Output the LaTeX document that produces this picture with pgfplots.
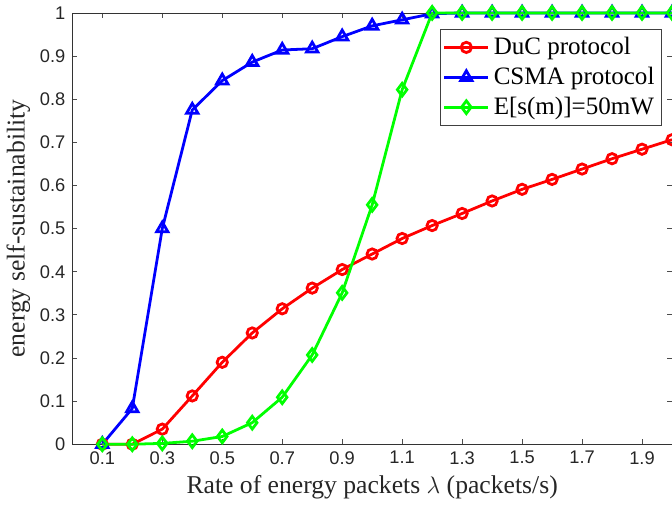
\documentclass[border=0pt]{standalone}
\usepackage{pgfplots}
\pgfplotsset{compat=1.18}
\usepackage{fontspec}
\setmainfont{Liberation Serif}
\newfontfamily\ticksans{Liberation Sans}

\pgfplotstableread{
x    duc    csma   emw
0.1  0.000  0.000  0.000
0.2  0.000  0.083  0.000
0.3  0.035  0.500  0.002
0.4  0.112  0.775  0.007
0.5  0.190  0.843  0.018
0.6  0.258  0.886  0.050
0.7  0.314  0.914  0.109
0.8  0.362  0.917  0.207
0.9  0.405  0.945  0.351
1.0  0.441  0.970  0.555
1.1  0.477  0.984  0.822
1.2  0.507  0.998  1.000
1.3  0.535  1.000  1.000
1.4  0.564  1.000  1.000
1.5  0.591  1.000  1.000
1.6  0.614  1.000  1.000
1.7  0.638  1.000  1.000
1.8  0.662  1.000  1.000
1.9  0.684  1.000  1.000
2.0  0.706  1.000  1.000
}\datatab

\begin{document}
\begin{tikzpicture}
\begin{axis}[name=ax,
    scale only axis, width=301.7pt, height=217pt,
    xmin=0, xmax=2, ymin=0, ymax=1,
    xtick={0.1,0.3,0.5,0.7,0.9,1.1,1.3,1.5,1.7,1.9},
    ytick={0,0.1,0.2,0.3,0.4,0.5,0.6,0.7,0.8,0.9,1},
    xticklabels={0.1,0.3,0.5,0.7,0.9,1.1,1.3,1.5,1.7,1.9},
    yticklabels={0,0.1,0.2,0.3,0.4,0.5,0.6,0.7,0.8,0.9,1},
    tick label style={font=\ticksans\fontsize{9.2}{10}\selectfont, text=black!85},
    tick align=inside, major tick length=2.5pt,
    every tick/.style={black!70, line width=0.4pt},
    axis line style={black!80, line width=0.4pt},
    xlabel={Rate of energy packets $\lambda$ (packets/s)},
    ylabel={energy self-sustainability},
    label style={font=\fontsize{12.9}{14}\selectfont, text=black!85},
    xlabel style={yshift=1pt},
    ylabel style={yshift=-2pt},
    clip=false,
    legend cell align=left,
    legend style={at={(rel axis cs:0.983,0.963)}, anchor=north east,
        font=\fontsize{12.6}{14}\selectfont, draw=black!75, line width=0.4pt,
        inner xsep=1.5pt, inner ysep=2pt, row sep=0.8pt},
    legend image code/.code={
        \draw[mark repeat=2, mark phase=2] plot coordinates {(0cm,0cm) (0.39cm,0cm) (0.78cm,0cm)};},
]
\addplot[red, line width=1.4pt, mark=o, mark size=2.6pt] table[x=x, y=duc] {\datatab};
\addlegendentry{DuC protocol}
\addplot[blue, line width=1.4pt, mark=triangle, mark size=3.3pt] table[x=x, y=csma] {\datatab};
\addlegendentry{CSMA protocol}
\addplot[green, line width=1.4pt, mark=diamond, mark size=3.2pt] table[x=x, y=emw] {\datatab};
\addlegendentry{E[s(m)]=50mW}
\end{axis}
\coordinate (bbsw) at (current bounding box.south west);
\coordinate (bbne) at (current bounding box.north east);
\pgfresetboundingbox
\path[use as bounding box] (bbsw) rectangle (ax.east |- bbne);
\end{tikzpicture}
\end{document}
